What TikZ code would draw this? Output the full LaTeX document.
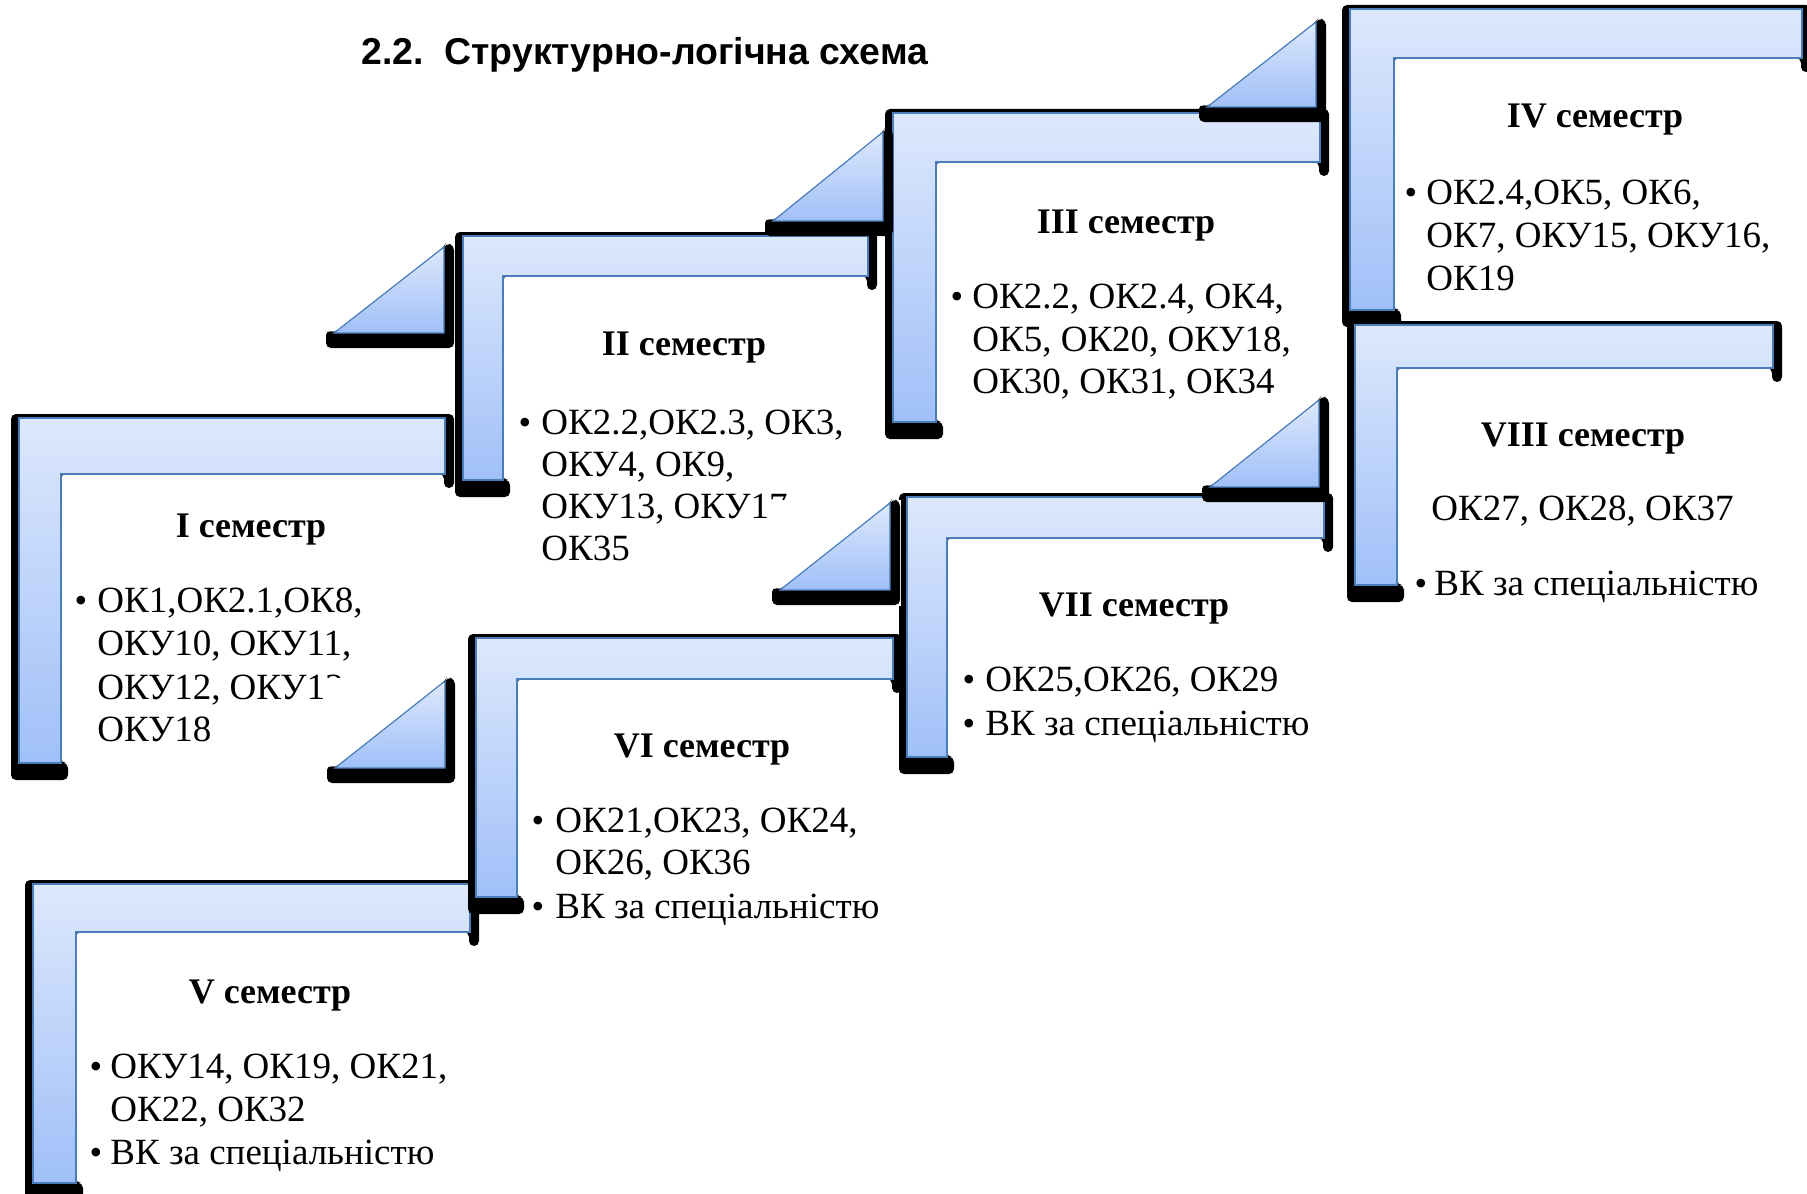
\documentclass[tikz,border=0pt]{standalone}
\usepackage{fontspec}
\setmainfont{Liberation Serif}
\newfontfamily\titlefont{Liberation Sans}
\definecolor{ltb}{RGB}{221,232,252}
\definecolor{dkb}{RGB}{160,192,248}
\definecolor{edgeb}{RGB}{74,126,187}
\tikzset{
  shapefill/.style={top color=ltb, bottom color=dkb, draw=edgeb, line width=0.6pt, line join=miter},
  shadowfill/.style={fill=black, rounded corners=2.5pt},
  headtxt/.style={font=\bfseries\fontsize{18}{20}\selectfont, anchor=base, inner sep=0pt},
  bodytxt/.style={font=\fontsize{18.5}{21}\selectfont, anchor=base west, inner sep=0pt},
  bullettxt/.style={font=\fontsize{18}{21}\selectfont, anchor=base, inner sep=0pt},
  titletxt/.style={font=\titlefont\bfseries\fontsize{18.7}{21}\selectfont, anchor=base west, inner sep=0pt},
}
% L, T, R, IX, IY, B
\newcommand{\stepshape}[6]{%
  \fill[shadowfill] (#1-8,#2-4) -- (#3+9,#2-4) -- (#3+9,#5+14) -- (#3-1,#5+14) -- (#3-1,#5) -- (#4,#5) -- (#4,#6) -- (#4+7,#6) -- (#4+7,#6+17) -- (#1-8,#6+17) -- cycle;
  \draw[shapefill] (#1,#2) -- (#3,#2) -- (#3,#5) -- (#4,#5) -- (#4,#6) -- (#1,#6) -- cycle;
}
% x1, ytop, x2, ybottom
\newcommand{\steptri}[4]{%
  \fill[shadowfill] (#1-8,#4-3) -- (#1,#4) -- (#3,#2) -- (#3+2,#2-4) -- (#3+10,#2-2) -- (#3+10,#4+15) -- (#1-8,#4+15) -- cycle;
  \draw[shapefill] (#1,#4) -- (#3,#2) -- (#3,#4) -- cycle;
}
\newcommand{\stepcover}[4]{\fill[white] (#1-9,#2-3) rectangle (#3+11,#4+16);}
\begin{document}
\begin{tikzpicture}[x=0.5pt,y=-0.5pt]
\useasboundingbox (0,0) rectangle (1807,1193);
\clip (0,0) rectangle (1807,1193);
\fill[white] (0,0) rectangle (1807,1193);

\node[titletxt] (title) at (361,65) {2.2.\ \ Структурно-логічна схема};

% L-shapes
\stepshape{19}{418}{445}{61}{474}{763}
\stepshape{463}{236}{868}{503}{276}{480}
\stepshape{893}{113}{1320}{936}{162}{422}
\stepshape{1350}{9}{1802}{1394}{58}{310}
\stepshape{33}{884}{470}{76}{932}{1183}
\stepshape{476}{638}{893}{517}{679}{897}
\stepshape{907}{497}{1324}{947}{538}{757}
\stepshape{1355}{325}{1773}{1397}{368}{585}

% I
\node[headtxt] (h1) at (251,537) {I семестр};
\node[bullettxt] (b1) at (81,612) {•};
\node[bodytxt] (t1a) at (97,612) {ОК1,ОК2.1,ОК8,};
\node[bodytxt] (t1b) at (97,655) {ОКУ10, ОКУ11,};
\node[bodytxt] (t1c) at (97,699) {ОКУ12, ОКУ13,};
\node[bodytxt] (t1d) at (97,741) {ОКУ18};
% II
\node[headtxt] (h2) at (684,355) {II семестр};
\node[bullettxt] (b2) at (525,434) {•};
\node[bodytxt] (t2a) at (541,434) {ОК2.2,ОК2.3, ОК3,};
\node[bodytxt] (t2b) at (541,476) {ОКУ4, ОК9,};
\node[bodytxt] (t2c) at (541,518) {ОКУ13, ОКУ17,};
\node[bodytxt] (t2d) at (541,560) {ОК35};
% III
\node[headtxt] (h3) at (1126,233) {III семестр};
\node[bullettxt] (b3) at (957,308) {•};
\node[bodytxt] (t3a) at (972,308) {ОК2.2, ОК2.4, ОК4,};
\node[bodytxt] (t3b) at (972,351) {ОК5, ОК20, ОКУ18,};
\node[bodytxt] (t3c) at (972,393) {ОК30, ОК31, ОК34};
% IV
\node[headtxt] (h4) at (1595,127) {IV семестр};
\node[bullettxt] (b4) at (1411,204) {•};
\node[bodytxt] (t4a) at (1426,204) {ОК2.4,ОК5, ОК6,};
\node[bodytxt] (t4b) at (1426,247) {ОК7, ОКУ15, ОКУ16,};
\node[bodytxt] (t4c) at (1426,290) {ОК19};
% V
\node[headtxt] (h5) at (270,1003) {V семестр};
\node[bullettxt] (b5a) at (96,1078) {•};
\node[bodytxt] (t5a) at (110,1078) {ОКУ14, ОК19, ОК21,};
\node[bodytxt] (t5b) at (110,1121) {ОК22, ОК32};
\node[bullettxt] (b5b) at (96,1164) {•};
\node[bodytxt] (t5c) at (110,1164) {ВК за спеціальністю};
% VI
\node[headtxt] (h6) at (702,757) {VI семестр};
\node[bullettxt] (b6a) at (538,832) {•};
\node[bodytxt] (t6a) at (555,832) {ОК21,ОК23, ОК24,};
\node[bodytxt] (t6b) at (555,874) {ОК26, ОК36};
\node[bullettxt] (b6b) at (538,918) {•};
\node[bodytxt] (t6c) at (555,918) {ВК за спеціальністю};
% VII
\node[headtxt] (h7) at (1134,616) {VII семестр};
\node[bullettxt] (b7a) at (969,691) {•};
\node[bodytxt] (t7a) at (985,691) {ОК25,ОК26, ОК29};
\node[bullettxt] (b7b) at (969,735) {•};
\node[bodytxt] (t7b) at (985,735) {ВК за спеціальністю};
% VIII
\node[headtxt] (h8) at (1583,446) {VIII семестр};
\node[bodytxt] (t8a) at (1431,520) {ОК27, ОК28, ОК37};
\node[bullettxt] (b8) at (1421,595) {•};
\node[bodytxt] (t8b) at (1434,595) {ВК за спеціальністю};

% triangles
\steptri{334}{247}{444}{333}
\steptri{773}{132}{883}{221}
\steptri{1207}{22}{1316}{107}
\stepcover{335}{681}{445}{768}
\steptri{335}{681}{445}{768}
\stepcover{780}{503}{890}{590}
\steptri{780}{503}{890}{590}
\steptri{1210}{400}{1319}{487}
\end{tikzpicture}
\end{document}
